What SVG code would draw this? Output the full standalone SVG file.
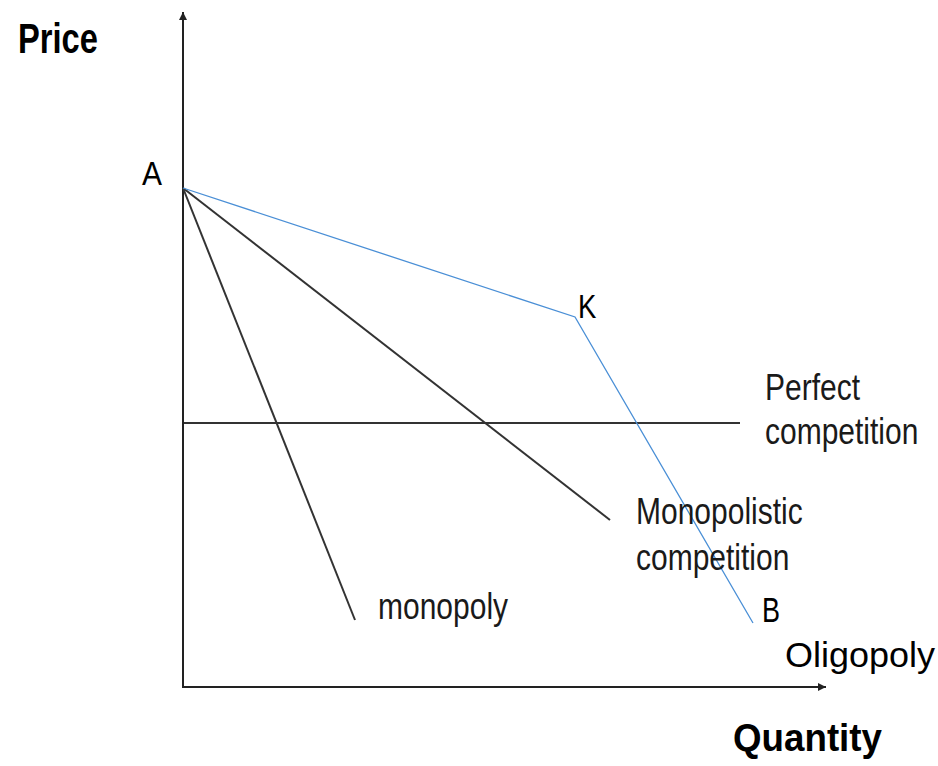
<svg xmlns="http://www.w3.org/2000/svg" width="938" height="766" viewBox="0 0 938 766">
<style>
.ax{stroke:#222;stroke-width:2;fill:none}
.blk{stroke:#333;stroke-width:2;fill:none}
.blu{stroke:#4a8fd6;stroke-width:1.3;fill:none}
.t{font-family:"Liberation Sans",Arial,sans-serif;fill:#000}
.s{font-family:"Liberation Sans",Arial,sans-serif;fill:#1a1a1a;font-size:30px}
.b{font-family:"Liberation Sans",Arial,sans-serif;font-weight:bold;fill:#000}
</style>
<defs>
<marker id="ar" markerWidth="10" markerHeight="10" refX="8" refY="5" orient="auto" markerUnits="userSpaceOnUse">
<path d="M0,1 L8,5 L0,9 Z" fill="#222"/>
</marker>
</defs>
<rect width="938" height="766" fill="#fff"/>
<g id="connectors">
<line class="ax" x1="183" y1="688" x2="183" y2="12" marker-end="url(#ar)"/>
<line class="ax" x1="182" y1="687" x2="826" y2="687" marker-end="url(#ar)"/>
<line class="blk" x1="184" y1="423" x2="740" y2="423"/>
<line class="blk" x1="183" y1="188" x2="355" y2="620"/>
<line class="blk" x1="183" y1="188" x2="610" y2="520"/>
<polyline class="blu" points="183,188 575,317 753,623"/>
</g>
<g id="labels">
<text class="b" transform="translate(18,53) scale(1,1.1)" font-size="38" textLength="80" lengthAdjust="spacingAndGlyphs">Price</text>
<text class="b" transform="translate(733,751) scale(1,1.1)" font-size="36" textLength="149" lengthAdjust="spacingAndGlyphs">Quantity</text>
<text class="t" transform="translate(142,185) scale(1,1.12)" font-size="30">A</text>
<text class="t" transform="translate(578,318) scale(0.95,1.15)" font-size="29">K</text>
<text class="t" transform="translate(762,622) scale(0.9,1.15)" font-size="30">B</text>
<text class="t" transform="translate(785,667) scale(1,1.12)" font-size="32" textLength="150" lengthAdjust="spacingAndGlyphs">Oligopoly</text>
<text class="s" transform="translate(765,400) scale(1,1.22)">Perfect</text>
<text class="s" transform="translate(765,444) scale(1,1.22)">competition</text>
<text class="s" transform="translate(636,524) scale(1,1.22)">Monopolistic</text>
<text class="s" transform="translate(636,570) scale(1,1.22)">competition</text>
<text class="s" transform="translate(378,619) scale(1,1.22)">monopoly</text>
</g>
</svg>
